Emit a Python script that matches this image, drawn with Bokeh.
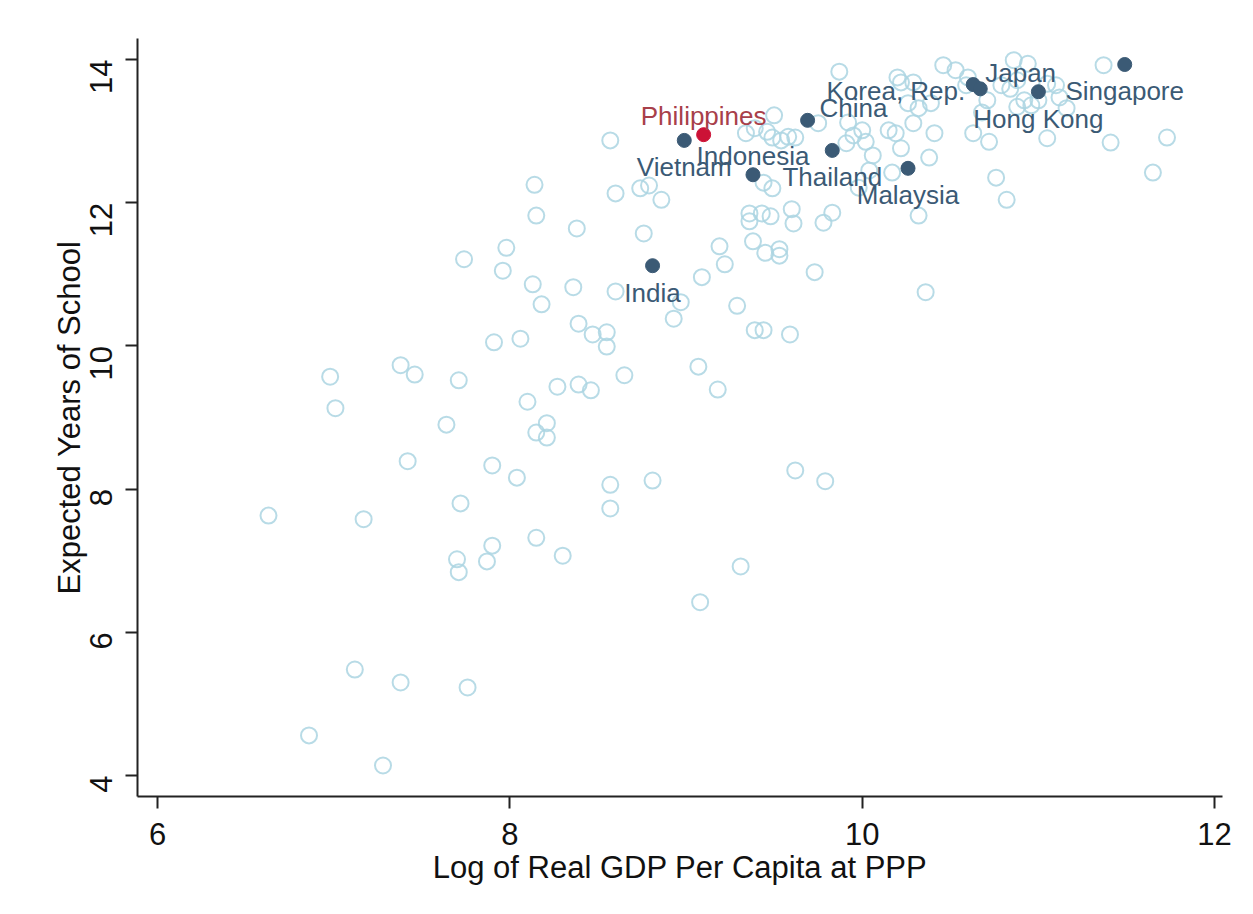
import math
from bokeh.plotting import figure
from bokeh.models import ColumnDataSource, FixedTicker, Range1d
from bokeh.core.properties import value
from bokeh.embed import file_html
from bokeh.resources import INLINE

# ---- data: all other countries (log real GDP per capita at PPP, expected years of school)
other_gdp = [6.63, 6.86, 6.98, 7.01, 7.12, 7.17, 7.28, 7.38, 7.38, 7.42, 7.46, 7.64, 7.70, 7.71,
             7.71, 7.72, 7.74, 7.76, 7.87, 7.90, 7.90, 7.91, 7.96, 7.98, 8.04, 8.06, 8.10, 8.13,
             8.14, 8.15, 8.15, 8.15, 8.18, 8.21, 8.21, 8.27, 8.30, 8.38, 8.36, 8.39, 8.39, 8.46,
             8.47, 8.55, 8.55, 8.57, 8.57, 8.57, 8.60, 8.60, 8.65, 8.74, 8.79, 8.76, 8.81, 8.86,
             8.93, 8.97, 9.08, 9.09, 9.19, 9.22, 9.29, 9.31, 9.07, 9.18, 9.36, 9.36, 9.38, 9.39,
             9.44, 9.43, 9.48, 9.44, 9.49, 9.45, 9.53, 9.53, 9.59, 9.60, 9.61, 9.62, 9.73, 9.78,
             9.83, 9.79, 10.32, 10.36, 10.76, 10.82, 11.65, 11.73, 11.41, 11.05, 10.72, 10.63,
             10.38, 10.22, 10.17, 10.04, 9.98, 9.87, 9.50, 9.34, 9.39, 9.46, 9.49, 9.54, 9.58,
             9.62, 9.75, 9.92, 9.95, 10.00, 10.02, 9.91, 10.06, 10.15, 10.19, 10.29, 10.41, 10.20,
             10.22, 10.29, 10.26, 10.32, 10.39, 10.46, 10.53, 10.60, 10.79, 10.84, 10.88, 10.71,
             10.86, 10.94, 11.37, 10.92, 10.96, 11.00, 11.05, 11.10, 11.12, 11.16, 10.88, 10.68,
             10.59]
other_school = [7.63, 4.56, 9.57, 9.13, 5.48, 7.58, 4.14, 5.30, 9.73, 8.39, 9.60, 8.90, 7.02, 6.84,
                9.52, 7.80, 11.21, 5.23, 6.99, 7.21, 8.33, 10.05, 11.05, 11.37, 8.16, 10.10, 9.22,
                10.86, 12.25, 11.82, 7.32, 8.79, 10.58, 8.72, 8.92, 9.43, 7.07, 11.64, 10.82, 10.31,
                9.46, 9.38, 10.16, 10.19, 9.99, 8.06, 7.73, 12.87, 12.13, 10.76, 9.59, 12.20, 12.24,
                11.57, 8.12, 12.04, 10.38, 10.61, 6.42, 10.96, 11.39, 11.14, 10.56, 6.92, 9.71, 9.39,
                11.85, 11.74, 11.46, 10.22, 10.22, 11.85, 11.81, 12.28, 12.20, 11.30, 11.35, 11.26,
                10.16, 11.91, 11.71, 8.26, 11.03, 11.72, 11.86, 8.11, 11.82, 10.75, 12.35, 12.04,
                12.42, 12.91, 12.84, 12.90, 12.85, 12.97, 12.63, 12.76, 12.42, 12.45, 12.21, 13.83,
                13.22, 12.97, 13.04, 12.99, 12.91, 12.87, 12.92, 12.91, 13.11, 13.12, 12.94, 13.01,
                12.85, 12.83, 12.66, 13.01, 12.97, 13.11, 12.97, 13.75, 13.68, 13.68, 13.39, 13.32,
                13.39, 13.92, 13.85, 13.75, 13.64, 13.59, 13.71, 13.43, 13.99, 13.94, 13.92, 13.43,
                13.36, 13.43, 13.66, 13.64, 13.47, 13.32, 13.34, 13.26, 13.64]

# ---- highlighted Asian economies
hl_names = ["Vietnam", "Indonesia", "China", "Thailand", "Malaysia", "Japan", "Korea, Rep.",
            "Hong Kong", "Singapore", "India"]
hl_gdp = [8.99, 9.38, 9.69, 9.83, 10.26, 10.63, 10.67, 11.00, 11.49, 8.81]
hl_school = [12.87, 12.39, 13.15, 12.73, 12.48, 13.65, 13.59, 13.55, 13.93, 11.12]

focus_names = ["Philippines"]
focus_gdp = [9.10]
focus_school = [12.95]

x_ticks = [6, 8, 10, 12]
y_ticks = [4, 6, 8, 10, 12, 14]

# ---- label placement (style): clock-like positions
label_pos = {"Philippines": "N", "Vietnam": "S", "Indonesia": "N", "China": "NE",
             "Thailand": "S", "Malaysia": "S", "Japan": "NE", "Korea, Rep.": "W",
             "Hong Kong": "S", "Singapore": "S", "India": "S"}
pos_style = {"N": (0, -19, "center"), "S": (0, 27, "center"),
             "NE": (12, -12, "left"), "W": (-15, 2, "right")}

FONT = "Liberation Sans"
LIGHT = "#acd5e2"
DARK = "#3b5a75"
RED = "#cc1236"
RED_TXT = "#a8404a"

p = figure(width=1237, height=898, output_backend="svg", toolbar_location=None,
           x_range=Range1d(5.8865, 12.045), y_range=Range1d(3.707, 14.293),
           min_border_left=137, min_border_right=15, min_border_top=38, min_border_bottom=102)

p.background_fill_color = "white"
p.border_fill_color = "white"
p.outline_line_color = None
p.xgrid.visible = False
p.ygrid.visible = False

# hollow circles for all other countries
p.scatter(other_gdp, other_school, marker="circle", size=16, fill_color=None,
          line_color=LIGHT, line_width=2, line_alpha=0.85)

# highlighted
p.scatter(hl_gdp, hl_school, marker="circle", size=14, fill_color=DARK, line_color=DARK)
p.scatter(focus_gdp, focus_school, marker="circle", size=14, fill_color=RED, line_color=RED)


def label_source(names, xs, ys):
    xo, yo, al = [], [], []
    for n in names:
        a, b, c = pos_style[label_pos[n]]
        xo.append(a)
        yo.append(b)
        al.append(c)
    return ColumnDataSource(dict(x=xs, y=ys, t=names, xo=xo, yo=yo, al=al))


src_hl = label_source(hl_names, hl_gdp, hl_school)
src_focus = label_source(focus_names, focus_gdp, focus_school)

p.text(x="x", y="y", text="t", x_offset="xo", y_offset="yo", text_align="al",
       text_baseline="middle", text_font=value(FONT), text_font_size="26px",
       text_color=DARK, source=src_hl)
p.text(x="x", y="y", text="t", x_offset="xo", y_offset="yo", text_align="al",
       text_baseline="middle", text_font=value(FONT), text_font_size="26px",
       text_color=RED_TXT, source=src_focus)

# axes
for ax in (p.xaxis[0], p.yaxis[0]):
    ax.axis_line_color = "#222222"
    ax.axis_line_width = 2
    ax.major_tick_line_color = "#222222"
    ax.major_tick_line_width = 2
    ax.major_tick_out = 12
    ax.major_tick_in = 0
    ax.minor_tick_line_color = None
    ax.major_label_text_font = FONT
    ax.major_label_text_font_size = "31px"
    ax.major_label_text_color = "#111111"
    ax.axis_label_text_font = FONT
    ax.axis_label_text_font_size = "31px"
    ax.axis_label_text_font_style = "normal"
    ax.axis_label_text_color = "#111111"

p.xaxis.ticker = FixedTicker(ticks=x_ticks)
p.yaxis.ticker = FixedTicker(ticks=y_ticks)
p.xaxis.axis_label = "Log of Real GDP Per Capita at PPP"
p.yaxis.axis_label = "Expected Years of School"
p.xaxis.major_label_standoff = 14
p.yaxis.major_label_standoff = 24
p.yaxis.major_label_orientation = math.pi / 2
p.xaxis.axis_label_standoff = 2
p.yaxis.axis_label_standoff = -10

open("out.html", "w").write(file_html(p, INLINE))
